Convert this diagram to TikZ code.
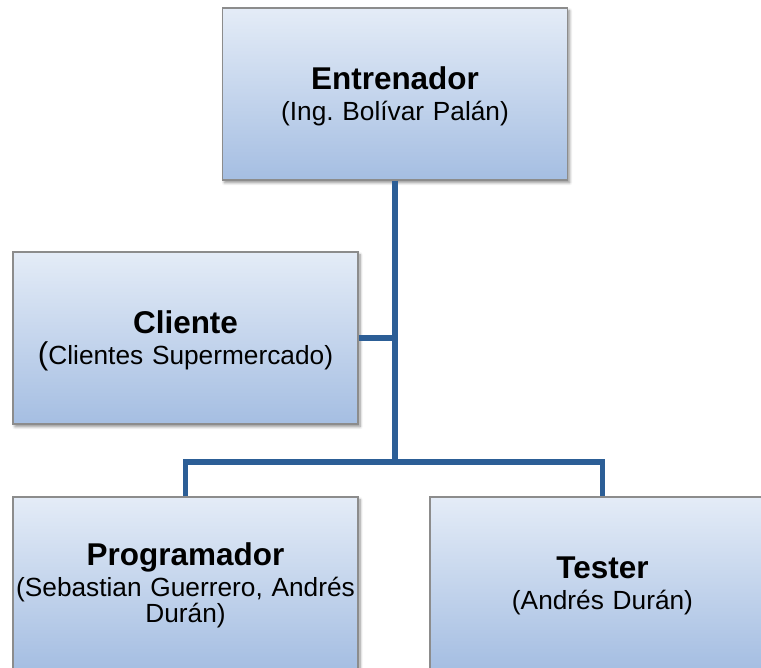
\documentclass[tikz,border=0pt]{standalone}
\usepackage{fontspec}
\setmainfont{Liberation Sans}
\usetikzlibrary{shadows.blur}
\frenchspacing
\definecolor{linkblue}{RGB}{44,94,150}
\definecolor{boxtop}{RGB}{228,236,247}
\definecolor{boxbottom}{RGB}{165,190,226}
\definecolor{boxedge}{RGB}{140,140,140}
\newcommand{\rolename}[1]{{\rule{0pt}{21pt}\fontsize{23.6}{26}\selectfont\bfseries #1}}
\begin{document}
\begin{tikzpicture}[x=0.75pt,y=-0.75pt,
  rolebox/.style={draw=boxedge,line width=1.1pt,top color=boxtop,bottom color=boxbottom,
    minimum width=258.75pt,minimum height=129pt,text width=256pt,align=center,inner sep=0pt,
    font=\fontsize{19.7}{20}\selectfont,
    blur shadow={shadow xshift=1.5pt,shadow yshift=-2pt,shadow blur steps=6,shadow opacity=45}},
  link/.style={draw=linkblue,line width=4pt}]
\useasboundingbox (0,0) rectangle (761,668);
% boxes
\node[rolebox] (ent) at (395,94) {\rolename{Entrenador}\\[3pt](Ing. Bolívar Palán)};
\node[rolebox] (cli) at (185.5,338) {\rolename{Cliente}\\[3pt]{\fontsize{23.6}{19.5}\selectfont(}Clientes Supermercado)};
\node[rolebox] (prog) at (185.5,583) {\rolename{Programador}\\[3pt](Sebastian Guerrero, Andrés\\Durán)};
\node[rolebox] (test) at (602.5,583) {\rolename{Tester}\\[3pt](Andrés Durán)};
% connectors
\coordinate (bus) at (395,462);
\draw[link] (ent.south) -- (bus);
\draw[link] (cli.east) -- (cli.east -| ent.south);
\draw[link] (prog.north) |- (bus) -| (test.north);
\end{tikzpicture}
\end{document}
